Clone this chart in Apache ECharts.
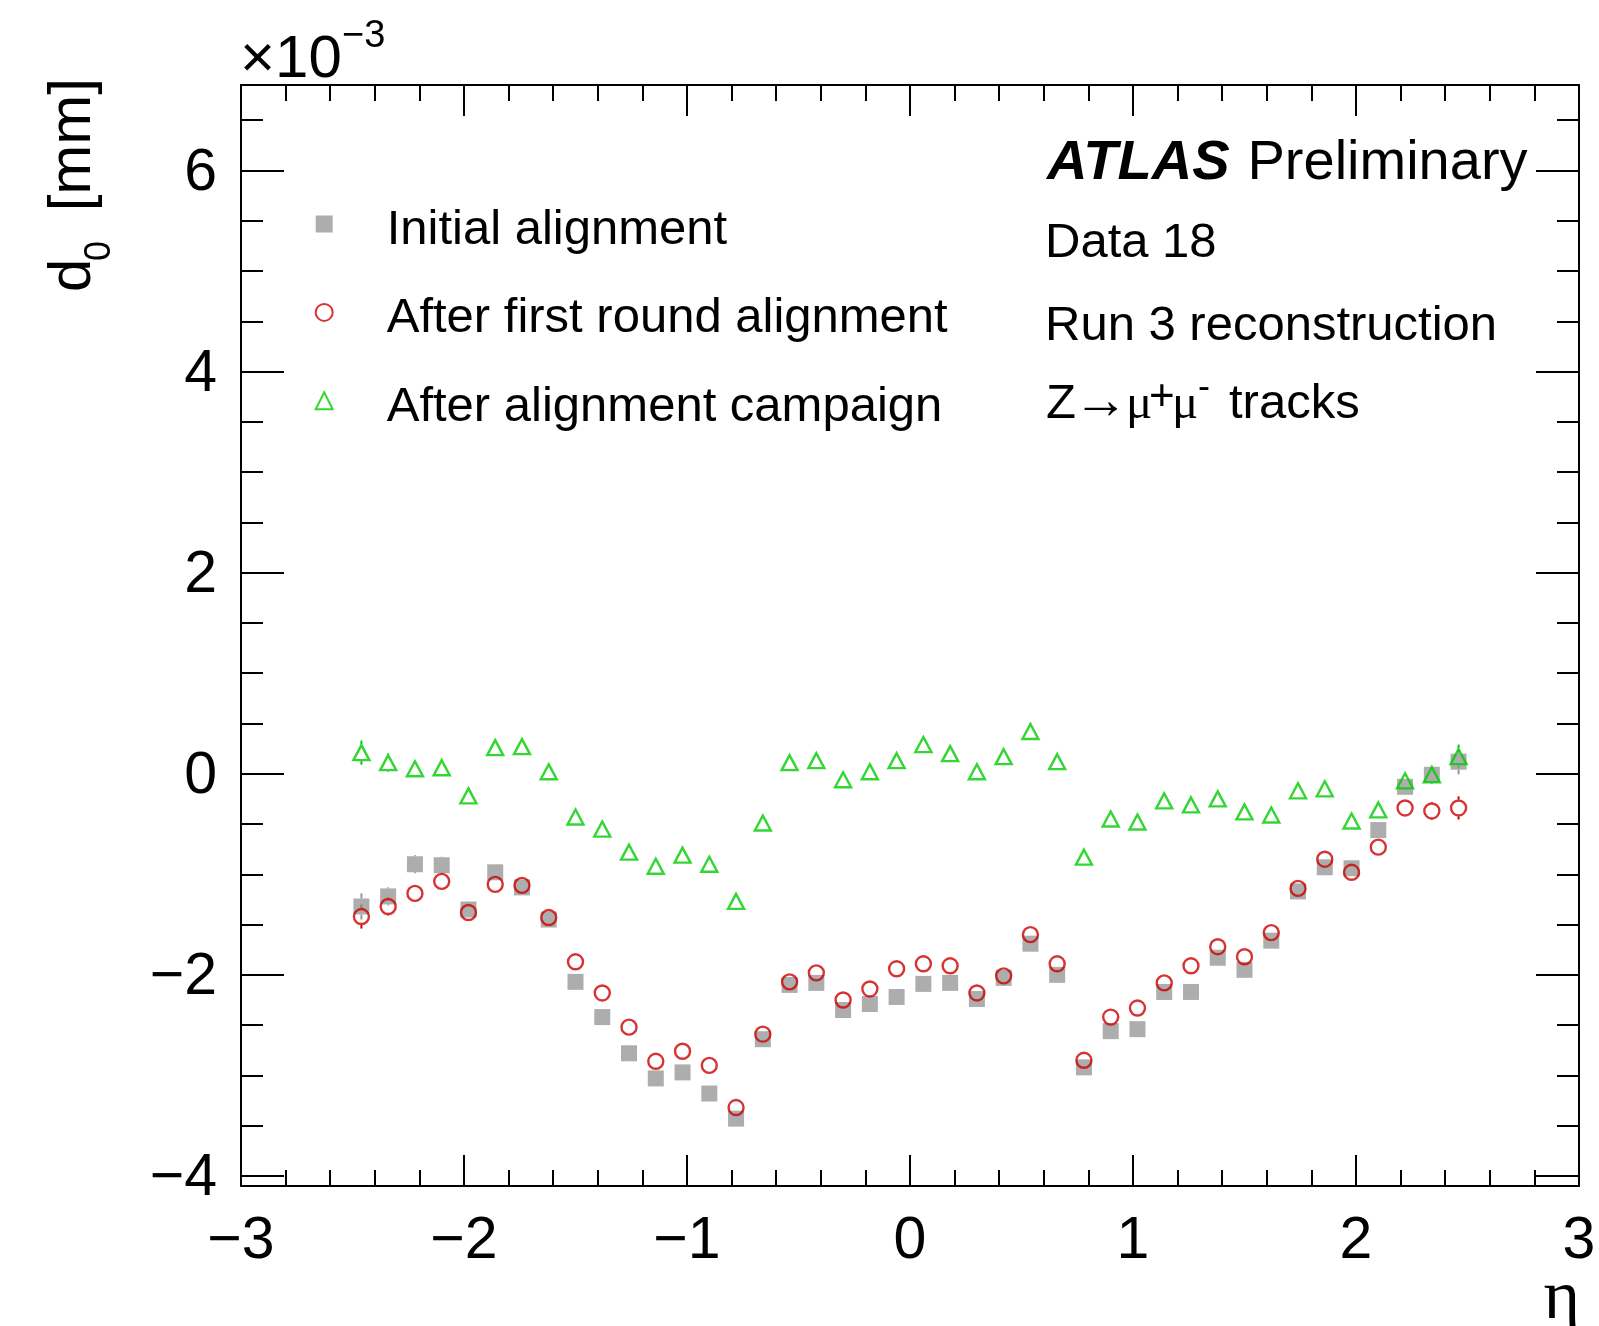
<!DOCTYPE html>
<html>
<head>
<meta charset="utf-8">
<title>d0 vs eta</title>
<script src="https://cdn.jsdelivr.net/npm/echarts@6/dist/echarts.min.js"></script>
<style>
  html, body { margin: 0; padding: 0; background: #ffffff; }
  #chart { width: 1599px; height: 1326px; }
</style>
</head>
<body>
<div id="chart"></div>
<script>
// Bin centres in pseudorapidity
const eta = [-2.46, -2.34, -2.22, -2.10, -1.98, -1.86, -1.74, -1.62, -1.50, -1.38,
             -1.26, -1.14, -1.02, -0.90, -0.78, -0.66, -0.54, -0.42, -0.30, -0.18,
             -0.06, 0.06, 0.18, 0.30, 0.42, 0.54, 0.66, 0.78, 0.90, 1.02,
             1.14, 1.26, 1.38, 1.50, 1.62, 1.74, 1.86, 1.98, 2.10, 2.22,
             2.34, 2.46];

// Mean d0 per bin, in units of 1e-3 mm
const initialAlignment = [-1.32, -1.22, -0.90, -0.91, -1.35, -0.98, -1.13, -1.45, -2.07, -2.42,
                          -2.78, -3.03, -2.97, -3.18, -3.43, -2.64, -2.10, -2.08, -2.35, -2.29,
                          -2.22, -2.09, -2.08, -2.24, -2.03, -1.69, -2.00, -2.92, -2.56, -2.54,
                          -2.17, -2.17, -1.83, -1.95, -1.66, -1.17, -0.93, -0.94, -0.56, -0.13,
                          -0.01, 0.12];
const initialErr = [0.13, 0.09, 0.09, 0.085, 0.08, 0.07, 0.07, 0.06, 0.06, 0.06,
                    0.06, 0.06, 0.06, 0.06, 0.06, 0.06, 0.06, 0.06, 0.06, 0.06,
                    0.06, 0.06, 0.06, 0.06, 0.06, 0.06, 0.06, 0.06, 0.06, 0.06,
                    0.06, 0.06, 0.06, 0.06, 0.06, 0.06, 0.07, 0.07, 0.08, 0.08,
                    0.08, 0.125];

const firstRound = [-1.42, -1.32, -1.19, -1.07, -1.38, -1.10, -1.11, -1.43, -1.87, -2.18,
                    -2.52, -2.86, -2.76, -2.90, -3.32, -2.59, -2.07, -1.98, -2.25, -2.14,
                    -1.94, -1.89, -1.91, -2.18, -2.01, -1.60, -1.89, -2.85, -2.42, -2.33,
                    -2.08, -1.91, -1.72, -1.82, -1.58, -1.14, -0.85, -0.98, -0.73, -0.34,
                    -0.37, -0.34];
const firstRoundErr = [0.12, 0.09, 0.08, 0.08, 0.08, 0.07, 0.07, 0.06, 0.06, 0.06,
                       0.06, 0.06, 0.06, 0.06, 0.06, 0.06, 0.06, 0.06, 0.06, 0.06,
                       0.06, 0.06, 0.06, 0.06, 0.06, 0.06, 0.06, 0.06, 0.06, 0.06,
                       0.06, 0.06, 0.06, 0.06, 0.06, 0.06, 0.07, 0.07, 0.08, 0.08,
                       0.09, 0.115];

const campaign = [0.21, 0.11, 0.05, 0.06, -0.22, 0.26, 0.27, 0.02, -0.43, -0.55,
                  -0.78, -0.92, -0.81, -0.90, -1.27, -0.49, 0.11, 0.13, -0.06, 0.02,
                  0.13, 0.29, 0.20, 0.02, 0.17, 0.42, 0.12, -0.83, -0.45, -0.48,
                  -0.27, -0.31, -0.25, -0.38, -0.41, -0.17, -0.15, -0.47, -0.36, -0.07,
                  -0.01, 0.17];
const campaignErr = [0.12, 0.09, 0.08, 0.08, 0.08, 0.07, 0.07, 0.06, 0.06, 0.06,
                     0.06, 0.06, 0.06, 0.06, 0.06, 0.06, 0.06, 0.06, 0.06, 0.06,
                     0.06, 0.06, 0.06, 0.06, 0.06, 0.06, 0.06, 0.06, 0.06, 0.06,
                     0.06, 0.06, 0.06, 0.06, 0.06, 0.06, 0.07, 0.07, 0.08, 0.08,
                     0.09, 0.12];

const seriesNames = ['Initial alignment', 'After first round alignment', 'After alignment campaign'];
const seriesColors = ['#999999', '#cc0000', '#00cc00'];

const FONT = 'Liberation Sans';
const SERIF = 'Liberation Serif';

const signed = v => (v < 0 ? '\u2212' + Math.abs(v) : String(v));

// Place a text so that its alphabetic baseline sits at `baseline`
function baselineText(text, x, baseline, size, opts = {}) {
  const family = opts.family || FONT;
  const k = opts.mid != null ? opts.mid : (family === SERIF ? 0.26 : 0.27);
  return {
    type: 'text',
    x: x,
    y: baseline - k * size,
    silent: true,
    style: {
      text: text,
      font: (opts.style || 'normal') + ' ' + (opts.weight || 'normal') + ' ' + size + 'px "' + family + '"',
      fill: '#000000',
      align: opts.align || 'left',
      verticalAlign: 'middle'
    }
  };
}

// Vertical error bars drawn only outside the marker
function errorBars(values, errs, color, half) {
  return {
    type: 'custom',
    silent: true,
    xAxisIndex: 0,
    yAxisIndex: 0,
    encode: { x: 0, y: 1 },
    data: eta.map((x, i) => [x, values[i], errs[i]]),
    renderItem(params, api) {
      const x = api.value(0), y = api.value(1), e = api.value(2);
      const c = api.coord([x, y]);
      const hi = api.coord([x, y + e])[1];
      const lo = api.coord([x, y - e])[1];
      const kids = [];
      const st = { stroke: color, lineWidth: 2 };
      if (hi < c[1] - half) {
        kids.push({ type: 'line', shape: { x1: c[0], y1: hi, x2: c[0], y2: c[1] - half }, style: st });
      }
      if (lo > c[1] + half) {
        kids.push({ type: 'line', shape: { x1: c[0], y1: c[1] + half, x2: c[0], y2: lo }, style: st });
      }
      return { type: 'group', children: kids };
    }
  };
}

function xAxisCfg(pos, showLabels) {
  return {
    type: 'value',
    position: pos,
    min: -3,
    max: 3,
    interval: 1,
    axisLine: { show: true, onZero: false, lineStyle: { color: '#000000', width: 2 } },
    axisTick: { show: true, inside: true, length: 31, lineStyle: { color: '#000000', width: 2 } },
    minorTick: { show: true, splitNumber: 5, length: 16, lineStyle: { color: '#000000', width: 2 } },
    splitLine: { show: false },
    minorSplitLine: { show: false },
    axisLabel: {
      show: showLabels, margin: 26, fontSize: 59, fontFamily: FONT, color: '#000000',
      formatter: signed
    }
  };
}

function yAxisCfg(pos, showLabels) {
  return {
    type: 'value',
    position: pos,
    min: -4.1,
    max: 6.85,
    splitNumber: 5,
    minInterval: 2,
    maxInterval: 2,
    axisLine: { show: true, onZero: false, lineStyle: { color: '#000000', width: 2 } },
    axisTick: { show: true, inside: true, length: 43, lineStyle: { color: '#000000', width: 2 } },
    minorTick: { show: true, splitNumber: 4, length: 22, lineStyle: { color: '#000000', width: 2 } },
    splitLine: { show: false },
    minorSplitLine: { show: false },
    axisLabel: {
      show: showLabels, margin: 24, fontSize: 59, fontFamily: FONT, color: '#000000',
      verticalAlign: 'top',
      lineHeight: 6,
      showMinLabel: false, showMaxLabel: false,
      formatter: signed
    }
  };
}

const chart = echarts.init(document.getElementById('chart'), null, { renderer: 'canvas', width: 1599, height: 1326 });

const option = {
  animation: false,
  backgroundColor: '#ffffff',
  grid: { left: 241, right: 20, top: 85, bottom: 140, containLabel: false },
  xAxis: [xAxisCfg('bottom', true), xAxisCfg('top', false)],
  yAxis: [yAxisCfg('left', true), yAxisCfg('right', false)],
  legend: {
    orient: 'vertical',
    left: 314.7,
    top: 206,
    padding: 0,
    itemWidth: 17,
    itemHeight: 17,
    itemGap: 39.4,
    selectedMode: false,
    // entry text sits a little below the marker centre
    formatter: name => '{t|' + name + '}{s| }',
    textStyle: {
      fontFamily: FONT, fontSize: 49, color: '#000000',
      padding: [0, 0, 0, 49],
      rich: {
        t: { fontFamily: FONT, fontSize: 49, color: '#000000', lineHeight: 50, verticalAlign: 'bottom' },
        s: { fontFamily: FONT, fontSize: 4, lineHeight: 62 }
      }
    },
    data: seriesNames
  },
  series: [
    errorBars(initialAlignment, initialErr, seriesColors[0], 8),
    {
      name: seriesNames[0],
      type: 'scatter',
      silent: true,
      symbol: 'rect',
      symbolSize: 16,
      itemStyle: { color: seriesColors[0] },
      emphasis: { disabled: true },
      data: eta.map((x, i) => [x, initialAlignment[i]])
    },
    errorBars(firstRound, firstRoundErr, seriesColors[1], 8.5),
    {
      name: seriesNames[1],
      type: 'scatter',
      silent: true,
      symbol: 'circle',
      symbolSize: 15,
      itemStyle: { color: 'rgba(0,0,0,0)', borderColor: seriesColors[1], borderWidth: 2.4 },
      emphasis: { disabled: true },
      data: eta.map((x, i) => [x, firstRound[i]])
    },
    errorBars(campaign, campaignErr, seriesColors[2], 8.5),
    {
      name: seriesNames[2],
      type: 'scatter',
      silent: true,
      symbol: 'triangle',
      symbolSize: [16, 15],
      itemStyle: { color: 'rgba(0,0,0,0)', borderColor: seriesColors[2], borderWidth: 2.4 },
      emphasis: { disabled: true },
      data: eta.map((x, i) => [x, campaign[i]])
    }
  ],
  graphic: [
    // axis exponent
    baselineText('\u00d710', 240, 76.5, 60),
    baselineText('\u22123', 342, 47, 38),
    // y-axis title, reading bottom to top
    {
      type: 'group',
      x: 89.7,
      y: 292,
      rotation: Math.PI / 2,
      silent: true,
      children: [
        baselineText('d', 0, 0, 60),
        baselineText('0', 31, 20, 36),
        baselineText(' [mm]', 64, 0, 60)
      ]
    },
    // x-axis title
    baselineText('\u03b7', 1580, 1318, 70, { family: SERIF, align: 'right' }),
    // labels block
    baselineText('ATLAS', 1047, 178.5, 56, { style: 'italic', weight: 'bold' }),
    baselineText('Preliminary', 1247.5, 178.5, 56),
    baselineText('Data 18', 1045, 256.7, 49),
    baselineText('Run 3 reconstruction', 1045, 339.3, 49),
    baselineText('Z', 1046, 417.5, 49),
    baselineText('\u2192', 1101, 417.5, 55, { family: SERIF, align: 'center' }),
    baselineText('\u03bc', 1126, 417.5, 49, { family: SERIF }),
    baselineText('+', 1149, 410, 44),
    baselineText('\u03bc', 1172, 417.5, 49, { family: SERIF }),
    baselineText('-', 1198, 398, 36),
    baselineText('tracks', 1229, 417.5, 49)
  ]
};

chart.setOption(option);
</script>
</body>
</html>
